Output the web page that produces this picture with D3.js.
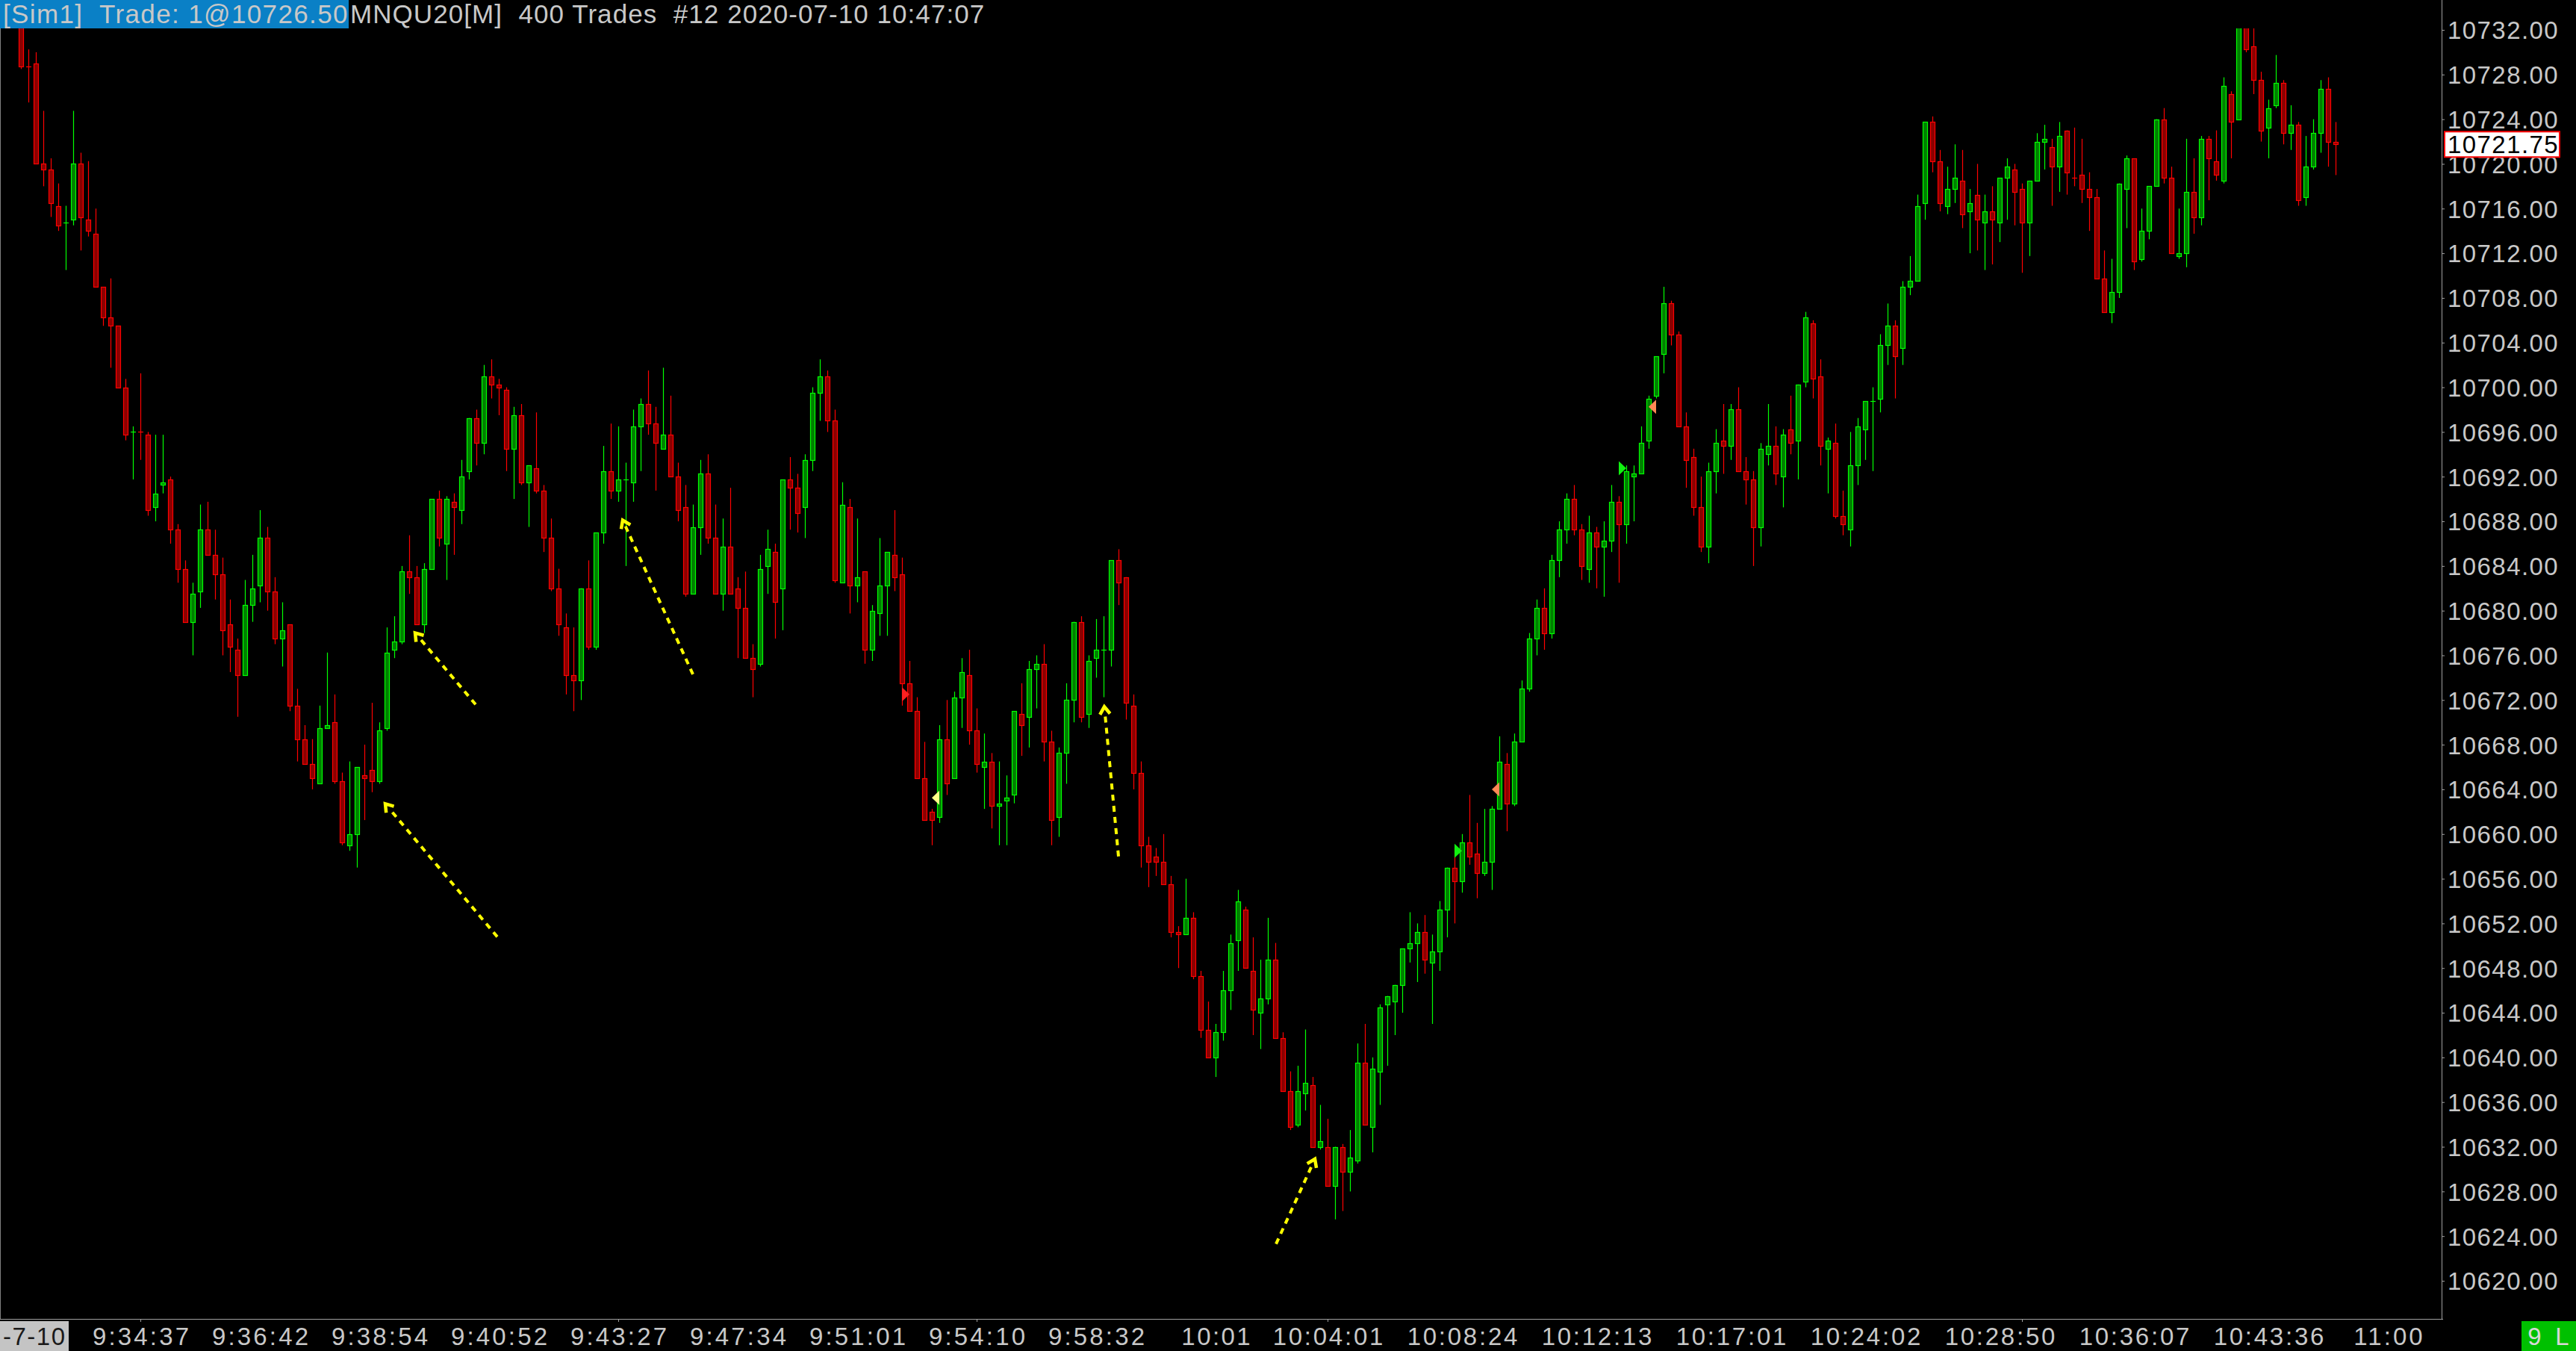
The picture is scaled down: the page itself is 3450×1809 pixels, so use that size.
<!DOCTYPE html>
<html><head><meta charset="utf-8">
<script src="https://cdn.jsdelivr.net/npm/d3@7"></script>
<style>
html,body{margin:0;padding:0;background:#000;overflow:hidden}
text{white-space:pre}
</style>
</head><body>
<svg id="chart" width="3450" height="1809"></svg>
<script>
// ---------- DATA ----------
const opens = [
10733.5,10728.75,10729,10720,10719.5,10716.25,10714.75,10715,10720,10715,
10713.75,10709,10706.25,10705.5,10700,10696,10696,10695.75,10689.25,10691.25,
10691.75,10687.25,10683.75,10679,10681.75,10687.25,10685,10683.25,10678.75,10676.5,
10674.25,10680.5,10682.25,10686.5,10681.75,10677.5,10678.75,10671.5,10668.5,10666.25,
10664.5,10669.5,10670,10664.75,10659,10660,10665.25,10665.75,10664.75,10669.5,
10676.5,10677.25,10683.5,10683,10678.75,10683.75,10690,10686,10689.75,10689,
10692.5,10697.25,10695,10701,10700.25,10699.75,10694.5,10697.5,10691.5,10692.75,
10690.75,10686.5,10682,10678.5,10674.25,10673.75,10682,10676.75,10687,10692.5,
10690.75,10691.75,10691.5,10696.5,10698.5,10696.75,10694.5,10695.75,10692,10689.25,
10681.5,10687.5,10692.25,10686.5,10681.5,10685.75,10682,10680.25,10675.75,10675.25,
10684,10685.25,10682,10691.75,10691,10689.25,10693.5,10699.5,10701,10697,
10682.5,10689.25,10682.25,10683.5,10676.5,10679.75,10682.25,10685,10683.25,10673.5,
10671,10665,10662,10661.5,10668.5,10665,10672.25,10674.25,10669.25,10666,
10666.5,10662.5,10663,10663.5,10670.75,10670.5,10674.75,10675.25,10668.25,10661.5,
10667.25,10672,10679,10670.75,10675.75,10676.5,10676.5,10684.5,10683,10671.5,
10665.5,10659,10658,10657.5,10655.5,10651.25,10651,10652.5,10647.25,10642.5,
10640,10642.25,10646,10650.5,10653.25,10647.75,10644,10645.25,10648.75,10641.75,
10637,10634,10636.75,10637.5,10632,10632,10628.5,10632,10629.75,10630.75,
10639.5,10633.75,10638.75,10644.75,10645,10646.5,10649.75,10650.25,10651.25,10648.5,
10649.5,10653.25,10657,10655.75,10659.25,10658.25,10656.5,10657.5,10662.25,10666.25,
10662.75,10668.25,10673,10677.5,10680.25,10678,10684.5,10687.25,10690,10687.25,
10683.75,10687,10685.75,10686.25,10689.75,10687.75,10692,10692.25,10695.25,10699.25,
10703,10707.5,10704.75,10696.5,10693.75,10689.25,10685.75,10692.5,10695.25,10694.75,
10698,10692.5,10691.75,10687.5,10694,10694.75,10692,10696.25,10695.25,10700.5,
10705.75,10701,10694.5,10695,10688.5,10687.25,10693,10696.25,10698.75,10699,
10703.75,10705.5,10703.5,10709,10709.5,10716.5,10723.75,10720.25,10716.25,10717.75,
10718.5,10715.75,10717.25,10714.75,10715.75,10714.75,10718.75,10719.5,10717.75,10714.75,
10718.5,10722,10721.5,10719.75,10723,10718.75,10719,10717.75,10717,10709.75,
10706.75,10708.5,10717.75,10720.5,10711.5,10714,10718,10724,10718.75,10711.75,
10712,10717.5,10715.25,10722.25,10720.25,10718.5,10726.25,10724,10732.5,10730.5,
10727.5,10723.25,10725.25,10727.25,10722.75,10723.5,10717,10719.75,10722.75,10726.75,
10722];
const highs = [
10734,10730.25,10730,10724.75,10720.5,10718.25,10716.25,10724.75,10721,10720.25,
10716,10709,10709.75,10705.5,10700.75,10696.5,10701.25,10696,10695.75,10695.75,
10692,10687.75,10684.5,10682.5,10689.5,10689.75,10687.25,10684.75,10681,10677.5,
10682.75,10685,10689,10687.5,10683,10680.75,10678.75,10673,10669.75,10668.5,
10671.5,10676.25,10672.5,10665.5,10666.5,10666,10668,10671.75,10670,10678.5,
10679.5,10684,10686.75,10684,10684.25,10690,10690.75,10690.25,10690.5,10693.5,
10697.25,10698,10702,10702.5,10700.75,10700,10698.25,10698.5,10693,10697.75,
10691.25,10688.25,10683.75,10679.75,10678.5,10682,10684.5,10687,10694.75,10696.75,
10696.5,10693.25,10698,10699,10701.5,10698.25,10701.75,10699.25,10693.25,10691.25,
10689.5,10693.5,10694,10689.5,10688.25,10691,10683,10683.5,10677,10685,
10687.25,10686,10691.75,10693.75,10692.25,10694,10700,10702.5,10701.5,10698,
10691.5,10690,10688.25,10683.5,10680.5,10686.5,10685.25,10689,10684.75,10675.5,
10672.25,10668.25,10662.25,10669.75,10672,10672.75,10675.75,10676.5,10671.25,10669,
10667.25,10666.5,10665.25,10671,10673.5,10675.5,10676,10677,10669.25,10667.75,
10673.5,10679,10679.5,10676,10679.25,10679.5,10684.5,10685.5,10683,10672.5,
10666.5,10659.75,10658.75,10660,10656.25,10651.75,10656,10653,10647.75,10645,
10643,10647.75,10651,10655,10653.5,10650.75,10648.75,10652.5,10650.25,10642.25,
10638.75,10639.25,10642.5,10638.25,10635.75,10634.5,10632,10632.25,10633.5,10641.25,
10643,10640,10644.75,10645.5,10646.5,10649.75,10653,10652,10652.75,10651,
10654,10657,10658.75,10660,10663.5,10661,10662.25,10662.5,10668.75,10667.25,
10669,10673.75,10678,10681,10682,10685,10688,10690.5,10691.25,10687.75,
10688.5,10687.5,10688,10691.25,10690.25,10693,10693,10696.5,10699.25,10702.75,
10709,10707.75,10705,10697.75,10694.5,10692,10693.25,10696.25,10698.5,10698.5,
10700,10693.75,10692.5,10695,10698.5,10696.5,10696.25,10699.25,10700.25,10706.75,
10706,10702.5,10695.5,10696.75,10690.75,10696,10697.25,10698.75,10700,10704.75,
10707.5,10706,10709.5,10711.75,10717.25,10723.75,10724.25,10721.25,10719.75,10721.75,
10721.25,10717.75,10720,10717.25,10718,10718.75,10720.5,10720,10718.25,10718.5,
10722.75,10723.5,10722.25,10723.75,10723,10723.25,10722.25,10719.25,10717.75,10712.25,
10711.5,10718.25,10720.75,10720.5,10716,10718,10724,10725,10719.75,10716,
10722.25,10720.5,10722.5,10722.5,10723,10727.75,10726.5,10733,10733.25,10733,
10728.25,10725.75,10729.75,10727.5,10725.25,10723.75,10722.5,10724,10727.5,10727.75,
10723.75];
const lows = [
10728.5,10725.5,10720,10718,10715.25,10714,10710.5,10714.5,10712.25,10713.5,
10709,10705.5,10701.75,10700,10695.25,10691.75,10693.5,10688.5,10688,10690.5,
10686,10682.5,10679,10676,10680.25,10685,10681,10676,10674.5,10670.5,
10674.25,10679,10680.75,10680,10677,10675,10671,10666.5,10666.25,10664,
10664.5,10669.5,10664.5,10659,10658.5,10657,10661.25,10663.75,10664.5,10669.25,
10675.75,10677,10681.5,10678.75,10678,10683.75,10685.75,10682.75,10685,10687.75,
10691.75,10693,10694,10699,10697.5,10692.5,10690,10691.25,10687.5,10690.5,
10685.25,10681.75,10677.75,10672.5,10671,10672,10676.5,10676.5,10686,10690,
10689.75,10684,10689.75,10692.5,10695.75,10690.75,10694.5,10692,10688,10681.25,
10681.5,10685,10686,10681.5,10680,10681.5,10675.75,10675.75,10672.25,10675,
10681.5,10677.5,10678.25,10687.25,10687,10686.5,10692.5,10697,10696,10682.5,
10682.5,10679.75,10680.75,10675.25,10675.5,10677.75,10677.75,10681.75,10671.5,10671,
10665,10661.25,10659,10661,10663.5,10665,10669.5,10668,10665.5,10662.25,
10660.5,10659,10659,10662.75,10667,10667.75,10671.25,10666.5,10659,10659.75,
10664.5,10670,10670,10669.5,10674,10672.25,10675,10680.5,10670.25,10664,
10657,10655.25,10656.25,10655.5,10650.75,10648,10651,10647,10641.75,10640,
10638.25,10641.5,10644.25,10647.75,10648,10642,10640.75,10644.75,10641.75,10637,
10633.5,10633.75,10635.25,10632,10631.75,10628.5,10625.5,10626.25,10628,10630.5,
10634,10631.5,10635.75,10639.25,10642,10644,10648.5,10646.75,10647.5,10643,
10647.75,10650.75,10652,10654.75,10657.25,10654.25,10656.25,10655,10662.25,10660.25,
10662.5,10668.25,10672.75,10676,10676.5,10677.5,10683,10686,10686.75,10682.75,
10682.5,10682,10681.25,10685.25,10682.5,10686,10688,10692.25,10694.5,10699,
10701.25,10703.75,10696.5,10691,10688.5,10685.25,10684.25,10690.5,10692.25,10693.5,
10692.5,10689.5,10684,10685.75,10693,10691.25,10689.25,10694,10691.75,10700,
10699,10693,10690.5,10688.25,10686.75,10685.75,10691.25,10693.5,10692.5,10697.75,
10702,10699,10702,10708.25,10709.5,10715,10719.25,10715.75,10715.5,10716.5,
10714.25,10712,10712.25,10710.5,10711,10713,10715,10714.5,10710.25,10711.75,
10718.5,10719.5,10716.25,10717.5,10717.25,10718,10716.5,10714,10709.75,10706.75,
10705.75,10708,10714.25,10710.5,10711.25,10713.25,10718,10718.25,10712,10711.5,
10710.75,10713.75,10714.5,10716.75,10718.5,10718.25,10720.5,10724,10730,10726.25,
10722,10720.5,10725,10721.75,10721.25,10716.25,10716.25,10719.5,10721,10719.75,
10719];
const closes = [
10728.75,10728.75,10720,10719.5,10716.5,10714.5,10714.75,10720,10715.25,10714,
10709,10706.25,10705.5,10700,10695.75,10696,10696,10689,10690.5,10691.5,
10687.25,10683.75,10679,10681.5,10687.25,10685,10683.25,10678.25,10676.75,10674.25,
10680.5,10682,10686.5,10681.75,10677.5,10678.25,10671.5,10668.5,10666.25,10665,
10669.5,10669.75,10664.75,10659.25,10660,10666,10665,10664.75,10669.25,10676.25,
10677.25,10683.5,10683,10678.75,10683.75,10690,10686.5,10690,10689.25,10692,
10697.25,10695,10701,10700.25,10700,10694.5,10697.5,10691.5,10693,10690.75,
10686.5,10682,10678.75,10674.25,10673.75,10682,10676.75,10687,10692.5,10690.75,
10691.75,10691.75,10696.5,10698.5,10696.75,10695,10695.75,10692,10689,10681.5,
10687.5,10692.25,10686.5,10681.5,10685.75,10681.5,10680.25,10675.75,10674.75,10683.75,
10685.5,10680.75,10691.75,10691,10688.75,10693.5,10699.5,10701,10697,10682.75,
10689.5,10682.25,10683,10676.5,10680,10682.25,10685.25,10683,10673.5,10671,
10665,10661.25,10661.25,10668.5,10664.5,10672.25,10674.5,10669.25,10666.25,10666.5,
10662.5,10662.75,10663.25,10671,10669.75,10674.75,10675.25,10668.25,10661.25,10667.25,
10672,10679,10670.5,10675.5,10676.5,10676.5,10684.5,10682.5,10671.75,10665.5,
10659,10657.5,10657.5,10655.5,10651.25,10651,10652.5,10647.25,10642.5,10640,
10642.25,10646,10650.25,10654,10648,10644.25,10645.25,10648.75,10641.75,10637,
10633.75,10637,10637.75,10632,10632.5,10628.5,10632,10629.75,10631,10639.5,
10634,10639,10644.5,10645.5,10646.5,10649.75,10650.25,10651.25,10648.75,10649.5,
10653.25,10657,10655.75,10659.25,10658,10656.5,10657.5,10662.25,10666.5,10662.75,
10668.25,10673,10677.5,10680.25,10678,10684.5,10687.25,10690,10687.25,10684,
10687,10685.75,10686.25,10689.75,10687.75,10692.5,10692.25,10695,10699,10702.75,
10707.5,10704.75,10696.5,10693.5,10689.25,10685.75,10692.5,10695,10694.75,10698,
10692.5,10691.75,10687.5,10694.5,10694.75,10692.25,10695.75,10695,10700.25,10706.25,
10700.75,10694.75,10695.25,10688.5,10687.75,10693,10696.5,10698.75,10698.75,10703.75,
10705.5,10702.75,10709,10709.5,10716.25,10723.75,10720.25,10716.5,10717.75,10718.75,
10715.5,10716.5,10715,10715.75,10715,10718.75,10719.75,10717.5,10714.75,10718.5,
10722,10722.25,10719.75,10722.5,10719.25,10718.75,10717.75,10717,10709.75,10706.75,
10708.5,10718.25,10720.5,10711.25,10714,10718,10724,10718.75,10712,10712,
10717.5,10715.25,10722.25,10720.5,10719,10727,10723.75,10732.75,10730.25,10727.5,
10723,10725,10727.25,10722.75,10723.5,10716.75,10719.75,10722.75,10726.75,10722,
10721.75];
const dojiUpBars = [6, 15, 81, 145, 248];

const priceTicks = [10732,10728,10724,10720,10716,10712,10708,10704,10700,10696,10692,10688,
  10684,10680,10676,10672,10668,10664,10660,10656,10652,10648,10644,10640,10636,10632,10628,10624,10620];
const lastPrice = 10721.75;

const timeLabels = ["9:34:37","9:36:42","9:38:54","9:40:52","9:43:27","9:47:34","9:51:01","9:54:10",
  "9:58:32","10:01","10:04:01","10:08:24","10:12:13","10:17:01","10:24:02","10:28:50","10:36:07","10:43:36","11:00"];
const timeLabelBars = [16,32,48,64,80,96,112,128,144,160,175,193,211,229,247,265,283,301,317];
const timeTickBars = [16,80,128,175,268];

const markerBars   = [118, 123, 192, 198, 214, 219];
const markerPrices = [10672.5, 10663.25, 10658.5, 10664, 10692.75, 10698.25];
const markerDirs   = ["right","left","right","left","right","left"];
const markerColors = ["#ff2020","#ffff88","#10f010","#ff8855","#10f010","#ff8855"];

const arrowTailBars   = [63.8, 60.9, 90.0, 147.0, 168.1];
const arrowTailPrices = [10650.8, 10671.6, 10674.3, 10658.0, 10623.3];
const arrowHeadBars   = [48.8, 52.8, 80.6, 145.1, 173.3];
const arrowHeadPrices = [10662.7, 10678.0, 10688.1, 10671.4, 10630.9];

const headerLeft = "[Sim1]  Trade: 1@10726.50";
const headerRight = "MNQU20[M]  400 Trades  #12 2020-07-10 10:47:07";
const dateTag = "-7-10";
const statusTag = "9 L";

// ---------- LAYOUT ----------
const W = 3450, H = 1809;
const plotRight = 3270, plotTop = 38, plotBottom = 1766;
const FONT = "'Liberation Sans Narrow', 'Liberation Sans', Arial, sans-serif";
const FS = 33;
const CHAR_W = 18.46;

const svg = d3.select("#chart");
svg.append("rect").attr("width", W).attr("height", H).attr("fill", "#000");

const x = d3.scaleLinear().domain([-2.8, 324.2]).range([0, plotRight]);
const y = d3.scaleLinear().domain([10620, 10732]).range([1715, 40]);

svg.append("defs").append("clipPath").attr("id", "plotClip")
  .append("rect").attr("x", 0).attr("y", plotTop).attr("width", plotRight).attr("height", plotBottom - plotTop);

const bars = opens.map((o, i) => ({ i, o, h: highs[i], l: lows[i], c: closes[i] }));
const isUp = d => d.c > d.o || (d.c === d.o && dojiUpBars.includes(d.i));
const cx = d => Math.round(x(d.i));

const plot = svg.append("g").attr("clip-path", "url(#plotClip)");

// wicks
plot.append("g").selectAll("line").data(bars).join("line")
  .attr("x1", d => cx(d) + 0.5).attr("x2", d => cx(d) + 0.5)
  .attr("y1", d => y(d.h)).attr("y2", d => y(d.l))
  .attr("stroke", d => isUp(d) ? "#00ff00" : "#ff0000")
  .attr("stroke-width", 1.2);

// bodies
plot.append("g").selectAll("rect").data(bars.filter(d => d.o !== d.c)).join("rect")
  .attr("x", d => cx(d) - 2.5)
  .attr("y", d => Math.round(y(Math.max(d.o, d.c))) + 0.5)
  .attr("width", 6)
  .attr("height", d => Math.max(1, Math.round(y(Math.min(d.o, d.c))) - Math.round(y(Math.max(d.o, d.c)))))
  .attr("fill", d => isUp(d) ? "#008000" : "#8b0000")
  .attr("stroke", d => isUp(d) ? "#00ff00" : "#ff0000")
  .attr("stroke-width", 1.2);

// doji crosses
plot.append("g").selectAll("line").data(bars.filter(d => d.o === d.c)).join("line")
  .attr("x1", d => cx(d) - 3).attr("x2", d => cx(d) + 4)
  .attr("y1", d => Math.round(y(d.c)) + 0.5).attr("y2", d => Math.round(y(d.c)) + 0.5)
  .attr("stroke", d => isUp(d) ? "#00ff00" : "#ff0000")
  .attr("stroke-width", 1.2);

// trade markers (triangles)
const markers = markerBars.map((b, k) => ({ b, p: markerPrices[k], dir: markerDirs[k], col: markerColors[k] }));
plot.append("g").selectAll("path").data(markers).join("path")
  .attr("d", m => {
    const bx = x(m.b), by = y(m.p), s = m.dir === "right" ? 1 : -1;
    return `M${bx},${by - 9.5}L${bx + s * 10},${by}L${bx},${by + 9.5}Z`;
  })
  .attr("fill", m => m.col);

// dashed yellow arrows
const arrows = arrowTailBars.map((b, k) => ({
  x1: x(b), y1: y(arrowTailPrices[k]), x2: x(arrowHeadBars[k]), y2: y(arrowHeadPrices[k])
}));
const ag = plot.append("g");
arrows.forEach(a => {
  const ang = Math.atan2(a.y2 - a.y1, a.x2 - a.x1);
  const ux = Math.cos(ang), uy = Math.sin(ang);
  ag.append("line")
    .attr("x1", a.x1).attr("y1", a.y1)
    .attr("x2", a.x2 - ux * 9).attr("y2", a.y2 - uy * 9)
    .attr("stroke", "#ffff00").attr("stroke-width", 4)
    .attr("stroke-dasharray", "8 7");
  const L = 12, spread = 0.6;
  const p1 = [a.x2 - L * Math.cos(ang - spread), a.y2 - L * Math.sin(ang - spread)];
  const p2 = [a.x2 - L * Math.cos(ang + spread), a.y2 - L * Math.sin(ang + spread)];
  ag.append("path")
    .attr("d", `M${p1[0]},${p1[1]}L${a.x2},${a.y2}L${p2[0]},${p2[1]}`)
    .attr("fill", "none").attr("stroke", "#ffff00").attr("stroke-width", 4.5)
    .attr("stroke-linejoin", "miter");
});

// frame lines
svg.append("line").attr("x1", 0.5).attr("x2", 0.5).attr("y1", 0).attr("y2", plotBottom)
  .attr("stroke", "#808080").attr("stroke-width", 1);

function fitText(sel, perChar) {
  const cw = perChar || CHAR_W;
  sel.attr("textLength", function () { return this.textContent.length * cw; })
     .attr("lengthAdjust", "spacing");
}

// right price axis
const yAxis = d3.axisRight(y).tickValues(priceTicks).tickFormat(d3.format(".2f"))
  .tickSize(4).tickPadding(4);
const yg = svg.append("g").attr("transform", `translate(${plotRight},0)`).call(yAxis);
yg.select(".domain").attr("stroke", "#a0a0a0").attr("d", `M0.5,0V${plotBottom}`);
yg.selectAll(".tick line").attr("stroke", "#a0a0a0");
yg.selectAll(".tick text")
  .attr("fill", "#c8c8c8").attr("font-family", FONT).attr("font-size", FS)
  .attr("dy", "0.36em").call(fitText);

// bottom time axis
const xAxis = d3.axisBottom(x).tickValues(timeLabelBars)
  .tickFormat((d, k) => timeLabels[k]).tickSize(0).tickPadding(0);
const xg = svg.append("g").attr("transform", `translate(0,${plotBottom})`).call(xAxis);
xg.select(".domain").attr("stroke", "#a0a0a0").attr("d", `M0,0.5H${plotRight + 2}`);
xg.selectAll(".tick text")
  .attr("fill", "#c8c8c8").attr("font-family", FONT).attr("font-size", FS)
  .attr("y", 35).attr("dy", 0).call(fitText);
xg.selectAll(".tick-mark").data(timeTickBars).join("line").attr("class", "tick-mark")
  .attr("x1", d => Math.round(x(d)) + 0.5).attr("x2", d => Math.round(x(d)) + 0.5)
  .attr("y1", 0).attr("y2", 4).attr("stroke", "#a0a0a0");

// last price box
const lpY = y(lastPrice);
svg.append("rect").attr("x", 3274).attr("y", lpY - 17).attr("width", 154).attr("height", 34)
  .attr("fill", "#ffffff").attr("stroke", "#ff0000").attr("stroke-width", 2);
svg.append("text").attr("x", 3278).attr("y", lpY).attr("dy", "0.36em")
  .attr("font-family", FONT).attr("font-size", FS).attr("fill", "#000")
  .text(d3.format(".2f")(lastPrice)).call(fitText);

// header
svg.append("rect").attr("x", 0).attr("y", 0).attr("width", 467).attr("height", 38).attr("fill", "#0a80c6");
svg.append("text").attr("x", 4).attr("y", 31).attr("font-family", FONT).attr("font-size", FS + 2)
  .attr("fill", "#c8c8c8").text(headerLeft).call(fitText);
svg.append("text").attr("x", 469).attr("y", 31).attr("font-family", FONT).attr("font-size", FS + 2)
  .attr("fill", "#c8c8c8").text(headerRight).call(fitText);

// bottom-left date tag
svg.append("rect").attr("x", 0).attr("y", 1769).attr("width", 92).attr("height", 40).attr("fill", "#c4c4c4");
svg.append("text").attr("x", 4).attr("y", 1801)
  .attr("font-family", FONT).attr("font-size", FS).attr("fill", "#1a1a1a").text(dateTag).call(fitText, 16.6);

// bottom-right status tag
svg.append("rect").attr("x", 3377).attr("y", 1769).attr("width", 73).attr("height", 40).attr("fill", "#00c000");
svg.append("text").attr("x", 3413).attr("y", 1801).attr("text-anchor", "middle")
  .attr("font-family", FONT).attr("font-size", FS).attr("fill", "#d8d8d8").text(statusTag).call(fitText);
</script>
</body></html>
